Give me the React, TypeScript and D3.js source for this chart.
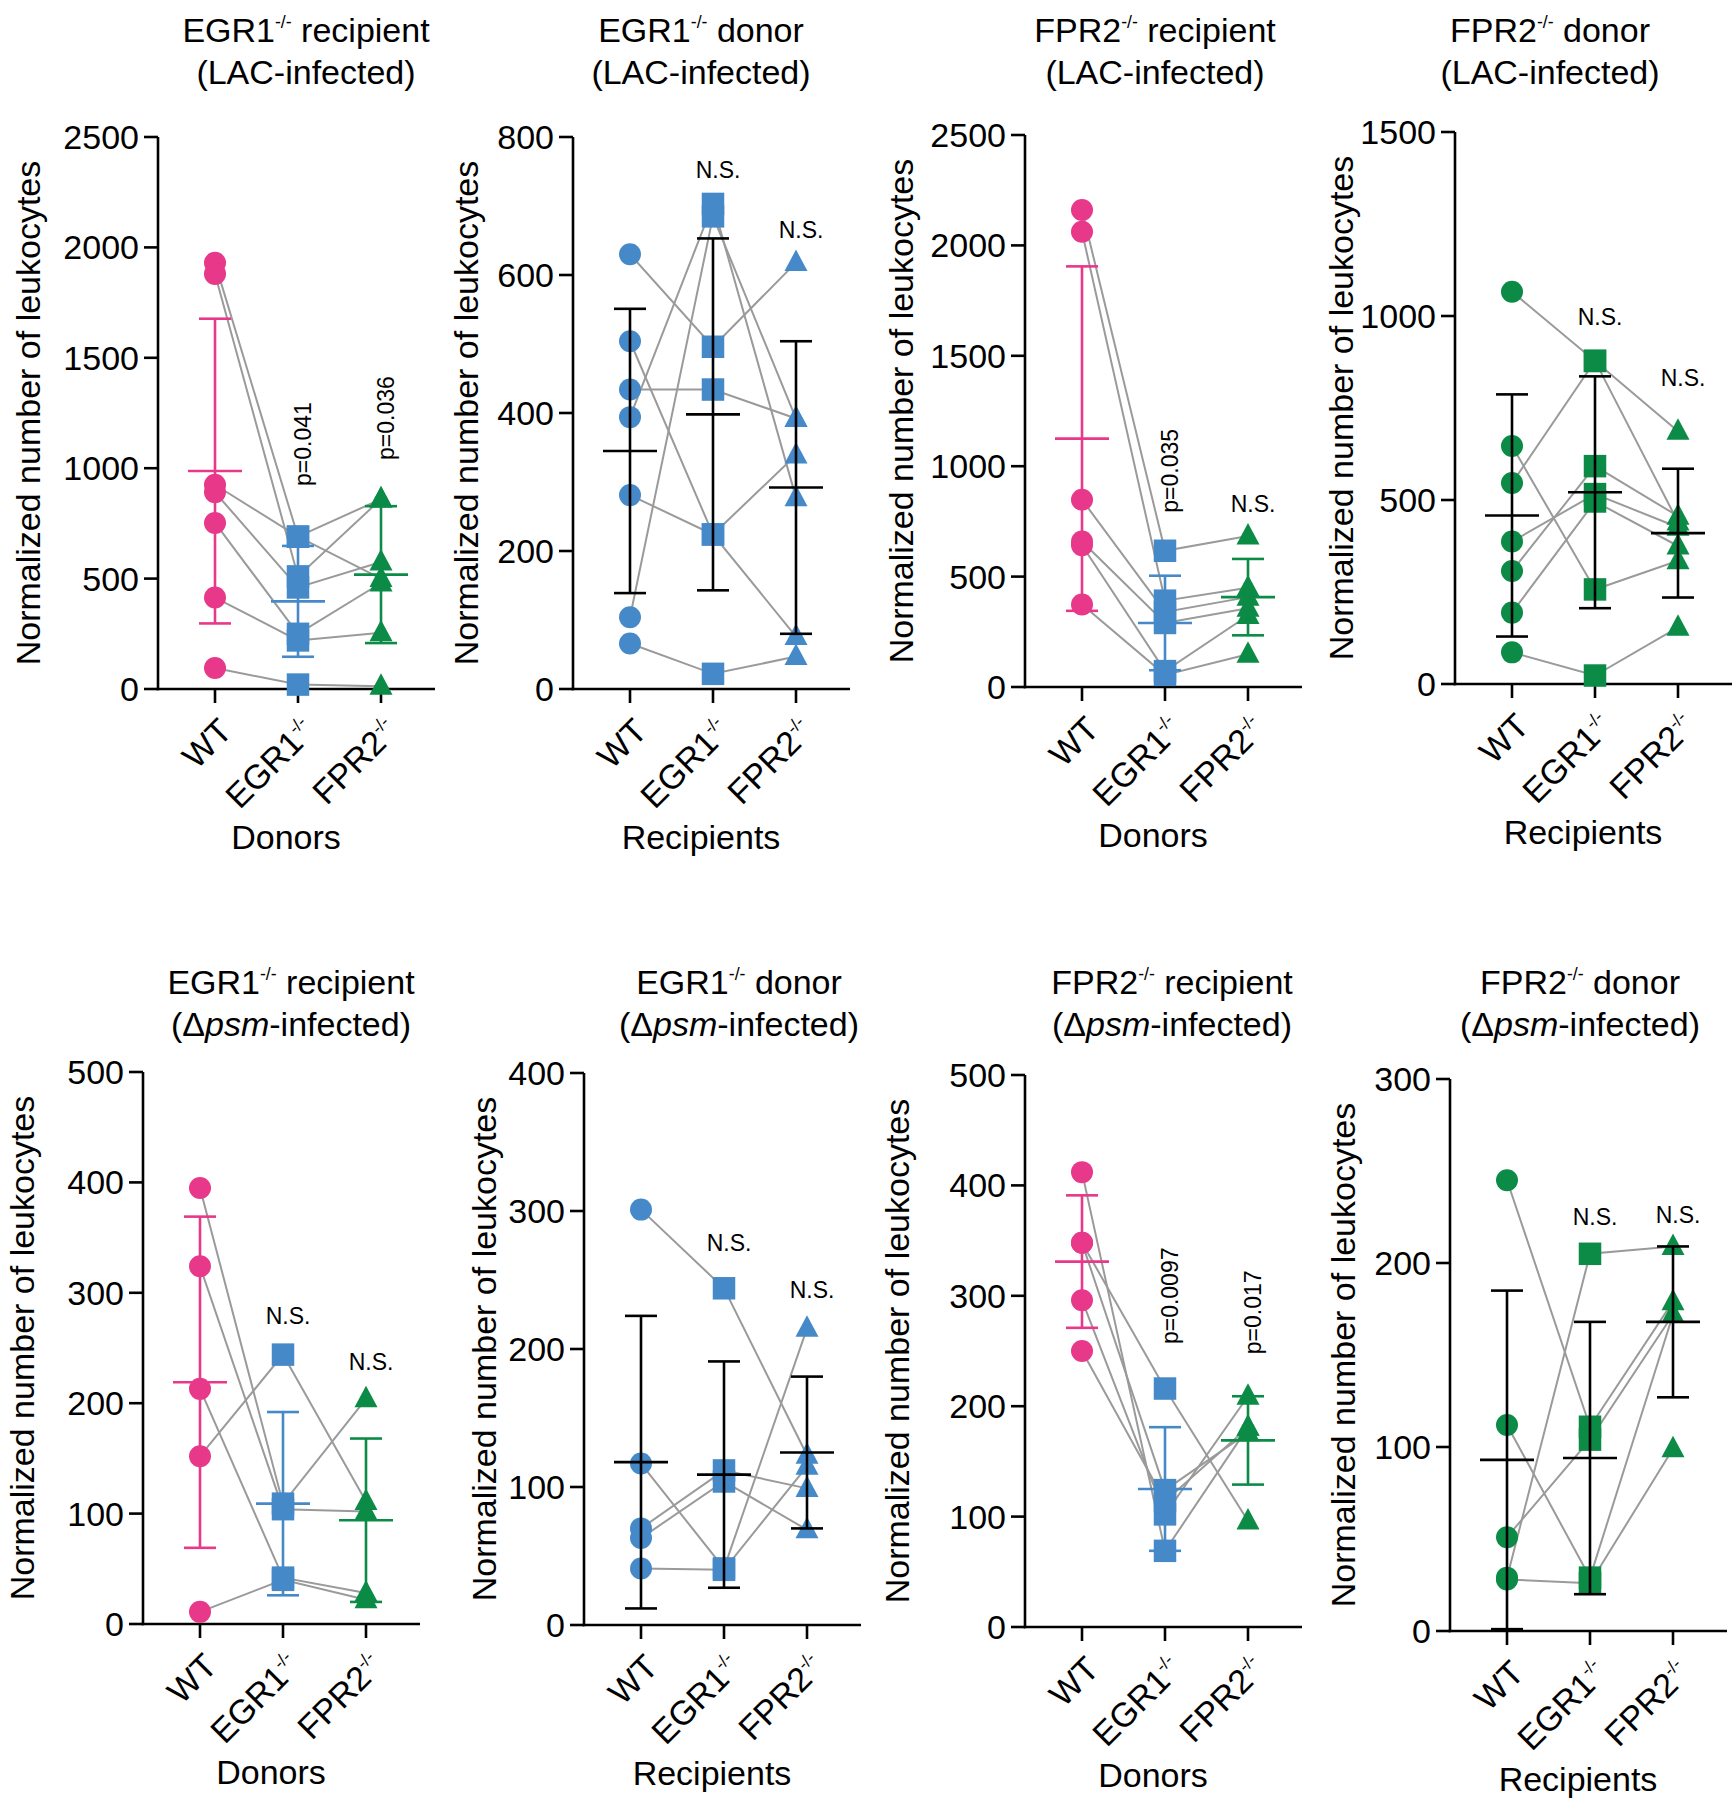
import React from "react";
import * as d3 from "d3";

const GROUPS = ["WT", "EGR1", "FPR2"];

const PINK = "#e8388a";
const BLUE = "#4689c9";
const GREEN = "#0b8b46";
const GRAY = "#9a9a9a";
const FONT = "'Liberation Sans', Arial, Helvetica, sans-serif";

// EGR1-/- recipient, LAC
const p1WT = [1930, 1880, 925, 891, 752, 414, 95];
const p1EGR1 = [690, 510, 690, 460, 250, 220, 20];
const p1FPR2 = [500, 860, 860, 575, 480, 255, 12];
const p1Mean = [987, 397, 518];
const p1Sd = [690, 251, 310];

// EGR1-/- donor, LAC
const p2WT = [630, 504, 434, 394, 281, 104, 66];
const p2EGR1 = [496, 224, 434, 703, 224, 685, 22];
const p2FPR2 = [618, 76, 392, 277, 339, 392, 47];
const p2Mean = [345, 398, 292];
const p2Sd = [206, 255, 212];

// FPR2-/- recipient, LAC
const p3WT = [2160, 2062, 848, 659, 642, 374];
const p3EGR1 = [617, 391, 340, 290, 72, 55];
const p3FPR2 = [684, 449, 407, 357, 324, 148];
const p3Mean = [1125, 290, 407];
const p3Sd = [780, 214, 173];

// FPR2-/- donor, LAC
const p4WT = [1066, 647, 546, 387, 307, 194, 86];
const p4EGR1 = [878, 257, 878, 516, 592, 496, 23];
const p4FPR2 = [687, 335, 440, 426, 456, 375, 154];
const p4Mean = [458, 521, 410];
const p4Sd = [329, 315, 175];

// EGR1-/- recipient, dpsm
const p5WT = [395, 324, 213, 152, 11];
const p5EGR1 = [109, 104, 42, 244, 40];
const p5FPR2 = [204, 102, 28, 111, 22];
const p5Mean = [219, 109, 94];
const p5Sd = [150, 83, 74];

// EGR1-/- donor, dpsm
const p6WT = [301, 117, 70, 63, 41];
const p6EGR1 = [244, 41, 112, 104, 40];
const p6FPR2 = [123, 215, 99, 69, 115];
const p6Mean = [118, 109, 125];
const p6Sd = [106, 82, 55];

// FPR2-/- recipient, dpsm
const p7WT = [412, 348, 348, 296, 250];
const p7EGR1 = [69, 216, 124, 102, 114];
const p7FPR2 = [181, 96, 176, 209, 181];
const p7Mean = [331, 125, 169];
const p7Sd = [60, 56, 40];

// FPR2-/- donor, dpsm
const p8WT = [245, 112, 51, 29, 28];
const p8EGR1 = [111, 29, 104, 205, 26];
const p8FPR2 = [179, 172, 172, 209, 99];
const p8Mean = [93, 94, 168];
const p8Sd = [92, 74, 41];

const p1Notes = [
  { group: "EGR1", text: "p=0.041", value: 1109, vertical: true },
  { group: "FPR2", text: "p=0.036", value: 1227, vertical: true },
];
const p2Notes = [
  { group: "EGR1", text: "N.S.", value: 752, vertical: false },
  { group: "FPR2", text: "N.S.", value: 665, vertical: false },
];
const p3Notes = [
  { group: "EGR1", text: "p=0.035", value: 979, vertical: true },
  { group: "FPR2", text: "N.S.", value: 830, vertical: false },
];
const p4Notes = [
  { group: "EGR1", text: "N.S.", value: 997, vertical: false },
  { group: "FPR2", text: "N.S.", value: 831, vertical: false },
];
const p5Notes = [
  { group: "EGR1", text: "N.S.", value: 279, vertical: false },
  { group: "FPR2", text: "N.S.", value: 237, vertical: false },
];
const p6Notes = [
  { group: "EGR1", text: "N.S.", value: 277, vertical: false },
  { group: "FPR2", text: "N.S.", value: 243, vertical: false },
];
const p7Notes = [
  { group: "EGR1", text: "p=0.0097", value: 300, vertical: true },
  { group: "FPR2", text: "p=0.017", value: 285, vertical: true },
];
const p8Notes = [
  { group: "EGR1", text: "N.S.", value: 225, vertical: false },
  { group: "FPR2", text: "N.S.", value: 226, vertical: false },
];

const PANELS = [
  { gene: "EGR1", role: "recipient", inf: "LAC", xTitle: "Donors", values: [p1WT, p1EGR1, p1FPR2], mean: p1Mean, sd: p1Sd, ymax: 2500, step: 500, scheme: "mixed", notes: p1Notes },
  { gene: "EGR1", role: "donor", inf: "LAC", xTitle: "Recipients", values: [p2WT, p2EGR1, p2FPR2], mean: p2Mean, sd: p2Sd, ymax: 800, step: 200, scheme: "blue", notes: p2Notes },
  { gene: "FPR2", role: "recipient", inf: "LAC", xTitle: "Donors", values: [p3WT, p3EGR1, p3FPR2], mean: p3Mean, sd: p3Sd, ymax: 2500, step: 500, scheme: "mixed", notes: p3Notes },
  { gene: "FPR2", role: "donor", inf: "LAC", xTitle: "Recipients", values: [p4WT, p4EGR1, p4FPR2], mean: p4Mean, sd: p4Sd, ymax: 1500, step: 500, scheme: "green", notes: p4Notes },
  { gene: "EGR1", role: "recipient", inf: "psm", xTitle: "Donors", values: [p5WT, p5EGR1, p5FPR2], mean: p5Mean, sd: p5Sd, ymax: 500, step: 100, scheme: "mixed", notes: p5Notes },
  { gene: "EGR1", role: "donor", inf: "psm", xTitle: "Recipients", values: [p6WT, p6EGR1, p6FPR2], mean: p6Mean, sd: p6Sd, ymax: 400, step: 100, scheme: "blue", notes: p6Notes },
  { gene: "FPR2", role: "recipient", inf: "psm", xTitle: "Donors", values: [p7WT, p7EGR1, p7FPR2], mean: p7Mean, sd: p7Sd, ymax: 500, step: 100, scheme: "mixed", notes: p7Notes },
  { gene: "FPR2", role: "donor", inf: "psm", xTitle: "Recipients", values: [p8WT, p8EGR1, p8FPR2], mean: p8Mean, sd: p8Sd, ymax: 300, step: 100, scheme: "green", notes: p8Notes },
];

// where each panel sits on the page (axis origin, title, y label)
const LAYOUT = [
  { x: 158, y: 689, titleX: 306, titleY: 42, labelDx: -130 },
  { x: 573, y: 689, titleX: 701, titleY: 42, labelDx: -107 },
  { x: 1025, y: 687, titleX: 1155, titleY: 42, labelDx: -124 },
  { x: 1455, y: 684, titleX: 1550, titleY: 42, labelDx: -114 },
  { x: 143, y: 1624, titleX: 291, titleY: 994, labelDx: -121 },
  { x: 584, y: 1625, titleX: 739, titleY: 994, labelDx: -100 },
  { x: 1025, y: 1627, titleX: 1172, titleY: 994, labelDx: -128 },
  { x: 1450, y: 1631, titleX: 1580, titleY: 994, labelDx: -107 },
];

const PLOT_H = 552;
const AXIS_W = 277;
const FS = 34;

const Sup = ({ base, rest }: { base: string; rest?: string }) => (
  <>
    <tspan>{base}</tspan>
    <tspan fontSize="0.52em" dy="-0.78em">-/-</tspan>
    {rest !== undefined ? <tspan dy="0.41em">{rest}</tspan> : null}
  </>
);

const Marker = ({ shape, x, y, color }: { shape: number; x: number; y: number; color: string }) => {
  if (shape === 0) return <circle cx={x} cy={y} r={11} fill={color} />;
  if (shape === 1) return <rect x={x - 11.25} y={y - 11.25} width={22.5} height={22.5} fill={color} />;
  return <path d={`M${x},${y - 13}L${x + 11.5},${y + 8.5}L${x - 11.5},${y + 8.5}Z`} fill={color} />;
};

const Panel = ({ p, lay }: { p: any; lay: any }) => {
  const xScale = d3.scalePoint<string>().domain(GROUPS).range([57, 223]);
  const yScale = d3.scaleLinear().domain([0, p.ymax]).range([0, -PLOT_H]);
  const ticks = d3.range(0, p.ymax + 1, p.step);
  const n = p.values[0].length;
  const markerColor = (g: number) =>
    p.scheme === "blue" ? BLUE : p.scheme === "green" ? GREEN : [PINK, BLUE, GREEN][g];
  const barColor = (g: number) => (p.scheme === "mixed" ? [PINK, BLUE, GREEN][g] : "#000");
  const line = d3
    .line<number>()
    .x((_, i) => xScale(GROUPS[i]) as number)
    .y((v) => yScale(v));

  return (
    <g transform={`translate(${lay.x},${lay.y})`}>
      {/* title */}
      <text
        x={lay.titleX - lay.x}
        y={lay.titleY - lay.y}
        textAnchor="middle"
        fontSize={FS}
      >
        <Sup base={p.gene} rest={` ${p.role}`} />
      </text>
      <text x={lay.titleX - lay.x} y={lay.titleY - lay.y + 42} textAnchor="middle" fontSize={FS}>
        {p.inf === "LAC" ? (
          "(LAC-infected)"
        ) : (
          <>
            <tspan>(Δ</tspan>
            <tspan fontStyle="italic">psm</tspan>
            <tspan>-infected)</tspan>
          </>
        )}
      </text>

      {/* y axis */}
      <line x1={0} x2={0} y1={1.3} y2={-PLOT_H} stroke="#000" strokeWidth={2.6} />
      {ticks.map((t: number) => (
        <g key={t} transform={`translate(0,${yScale(t)})`}>
          <line x1={-14} x2={0} stroke="#000" strokeWidth={2.6} />
          <text x={-19} textAnchor="end" dominantBaseline="central" fontSize={FS}>
            {t}
          </text>
        </g>
      ))}
      <text
        transform={`translate(${lay.labelDx},${-PLOT_H / 2}) rotate(-90)`}
        textAnchor="middle"
        dominantBaseline="central"
        fontSize={FS}
      >
        Normalized number of leukocytes
      </text>

      {/* x axis */}
      <line x1={-1.3} x2={AXIS_W} y1={0} y2={0} stroke="#000" strokeWidth={2.6} />
      {GROUPS.map((g) => {
        const gx = xScale(g) as number;
        return (
          <g key={g}>
            <line x1={gx} x2={gx} y1={0} y2={14} stroke="#000" strokeWidth={2.6} />
            <text
              transform={`translate(${gx + 19},${44}) rotate(-45)`}
              textAnchor="end"
              fontSize={FS}
            >
              {g === "WT" ? "WT" : <Sup base={g} />}
            </text>
          </g>
        );
      })}
      <text x={(xScale("EGR1") as number) - 12} y={160} textAnchor="middle" fontSize={FS}>
        {p.xTitle}
      </text>

      {/* paired lines */}
      {d3.range(n).map((i: number) => (
        <path
          key={i}
          d={line([p.values[0][i], p.values[1][i], p.values[2][i]]) as string}
          fill="none"
          stroke={GRAY}
          strokeWidth={2}
        />
      ))}

      {/* markers */}
      {p.values.map((vals: number[], g: number) =>
        vals.map((v: number, i: number) => (
          <Marker
            key={`${g}-${i}`}
            shape={g}
            x={xScale(GROUPS[g]) as number}
            y={yScale(v)}
            color={markerColor(g)}
          />
        ))
      )}

      {/* mean +/- SD */}
      {GROUPS.map((g, gi) => {
        const gx = xScale(g) as number;
        const m = p.mean[gi];
        const s = p.sd[gi];
        const c = barColor(gi);
        return (
          <g key={g} stroke={c} strokeWidth={2.6} fill="none">
            <line x1={gx} x2={gx} y1={yScale(m - s)} y2={yScale(m + s)} />
            <line x1={gx - 27} x2={gx + 27} y1={yScale(m)} y2={yScale(m)} />
            <line x1={gx - 16} x2={gx + 16} y1={yScale(m + s)} y2={yScale(m + s)} />
            <line x1={gx - 16} x2={gx + 16} y1={yScale(m - s)} y2={yScale(m - s)} />
          </g>
        );
      })}

      {/* significance labels */}
      {p.notes.map((nt: any, k: number) => {
        const nx = (xScale(nt.group) as number) + 5;
        const ny = yScale(nt.value);
        return (
          <text
            key={k}
            transform={`translate(${nx},${ny})${nt.vertical ? " rotate(-90)" : ""}`}
            textAnchor="middle"
            dominantBaseline="central"
            fontSize={23}
          >
            {nt.text}
          </text>
        );
      })}
    </g>
  );
};

export default function App() {
  return (
    <svg
      width={1736}
      height={1800}
      style={{ position: "absolute", left: 0, top: 0, background: "#fff" }}
      fontFamily={FONT}
    >
      <rect width={1736} height={1800} fill="#fff" />
      {PANELS.map((p, i) => (
        <Panel key={i} p={p} lay={LAYOUT[i]} />
      ))}
    </svg>
  );
}
